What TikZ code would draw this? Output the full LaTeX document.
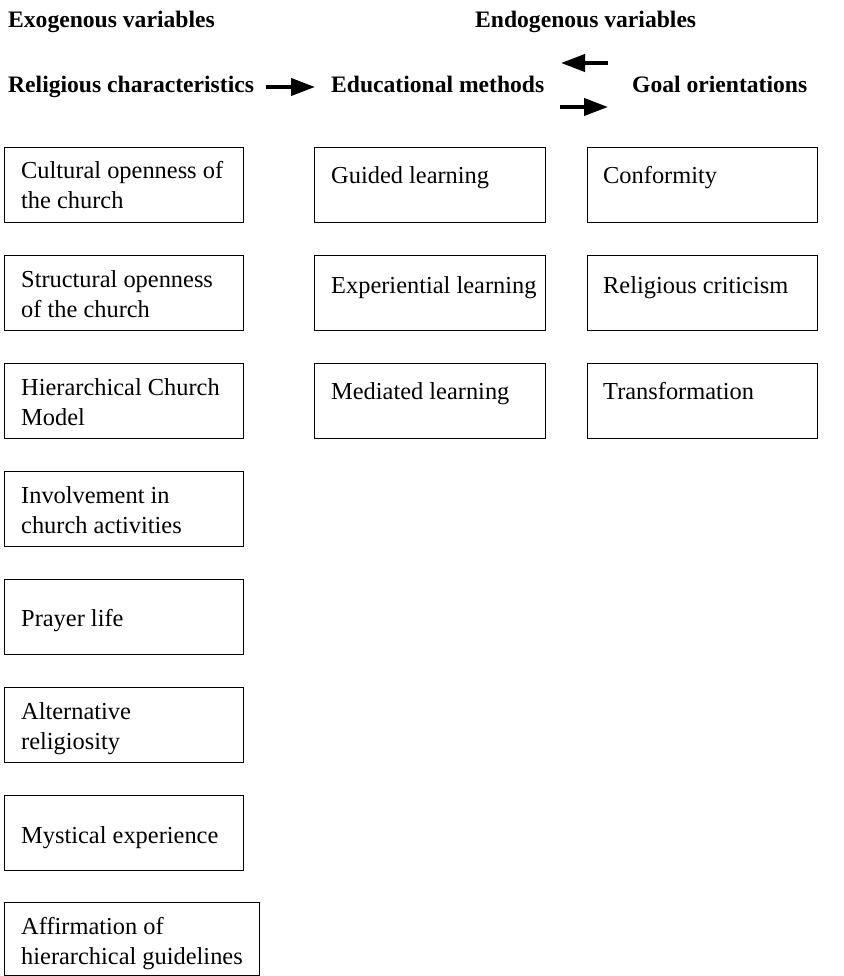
\documentclass[tikz,border=0pt]{standalone}
\usepackage{fontspec}
\setmainfont{Liberation Serif}
\usetikzlibrary{arrows.meta,calc}
\begin{document}
\begin{tikzpicture}[x=1pt,y=-1pt,
  box/.style={draw, line width=1.1pt, inner sep=0pt, anchor=north west, minimum height=75pt},
  txt/.style={anchor=base west, inner sep=0pt, align=left, font=\fontsize{24.4}{30}\selectfont},
  hdr/.style={anchor=base west, inner sep=0pt, font=\fontsize{23.6}{30}\selectfont\bfseries},
  bigarrow/.style={line width=4pt, -{Triangle[length=24pt,width=17pt]}}]
\useasboundingbox (0,0) rectangle (843,976);

% headers
\node[hdr] (exo) at (8,28) {Exogenous variables};
\node[hdr] (endo) at (475,28) {Endogenous variables};
\node[hdr] (relig) at (8,93) {Religious characteristics};
\node[hdr] (edu) at (331,93) {Educational methods};
\node[hdr] (goal) at (632,93) {Goal orientations};

\draw[bigarrow] ([xshift=12pt,yshift=6pt]relig.base east) -- ([xshift=-16pt,yshift=6pt]edu.base west);
\draw[bigarrow] ([xshift=-24pt,yshift=30pt]goal.base west) -- ([xshift=-71pt,yshift=30pt]goal.base west);
\draw[bigarrow] ([xshift=-72pt,yshift=-14pt]goal.base west) -- ([xshift=-24pt,yshift=-14pt]goal.base west);

% left column
\node[box, minimum width=239pt] (b1) at (4,147) {};
\node[txt] (t1) at (21,209) {Cultural openness of\\the church};
\node[box, minimum width=239pt] (b2) at (4,255) {};
\node[txt] (t2) at (21,317) {Structural openness\\of the church};
\node[box, minimum width=239pt] (b3) at (4,363) {};
\node[txt] (t3) at (21,425) {Hierarchical Church\\Model};
\node[box, minimum width=239pt] (b4) at (4,471) {};
\node[txt] (t4) at (21,533) {Involvement in\\church activities};
\node[box, minimum width=239pt] (b5) at (4,579) {};
\node[txt] (t5) at (21,626) {Prayer life};
\node[box, minimum width=239pt] (b6) at (4,687) {};
\node[txt] (t6) at (21,749) {Alternative\\religiosity};
\node[box, minimum width=239pt] (b7) at (4,795) {};
\node[txt] (t7) at (21,843) {Mystical experience};
\node[box, minimum width=255pt, minimum height=73pt] (b8) at (4,902) {};
\node[txt] (t8) at (21,964) {Affirmation of\\hierarchical guidelines};

% middle column
\node[box, minimum width=231pt] (m1) at (314,147) {};
\node[txt] (u1) at (331,184) {Guided learning};
\node[box, minimum width=231pt] (m2) at (314,255) {};
\node[txt] (u2) at (331,293) {Experiential learning};
\node[box, minimum width=231pt] (m3) at (314,363) {};
\node[txt] (u3) at (331,399) {Mediated learning};

% right column
\node[box, minimum width=230pt] (r1) at (587,147) {};
\node[txt] (v1) at (603,184) {Conformity};
\node[box, minimum width=230pt] (r2) at (587,255) {};
\node[txt] (v2) at (603,293) {Religious criticism};
\node[box, minimum width=230pt] (r3) at (587,363) {};
\node[txt] (v3) at (603,399) {Transformation};
\end{tikzpicture}
\end{document}
